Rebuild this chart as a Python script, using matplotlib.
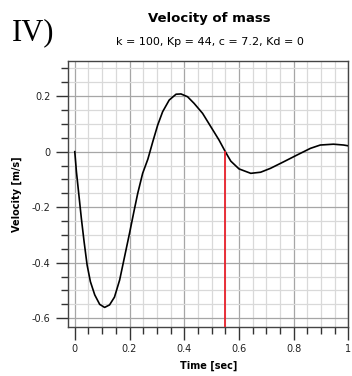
import matplotlib
matplotlib.use("Agg")
import matplotlib.pyplot as plt
from matplotlib.ticker import MultipleLocator

# curve
t = [0.0, 0.006, 0.015, 0.024, 0.034, 0.045, 0.057, 0.073, 0.091, 0.109,
     0.127, 0.145, 0.164, 0.182, 0.2, 0.216, 0.230, 0.248, 0.267, 0.285,
     0.303, 0.321, 0.345, 0.37, 0.388, 0.412, 0.436, 0.467, 0.497, 0.527,
     0.55, 0.57, 0.6, 0.643, 0.679, 0.715, 0.764, 0.812, 0.861, 0.897,
     0.945, 0.982, 1.0]
vel = [0.0, -0.072, -0.156, -0.240, -0.324, -0.408, -0.468, -0.516, -0.550,
       -0.561, -0.552, -0.524, -0.462, -0.378, -0.294, -0.216, -0.150, -0.078,
       -0.027, 0.036, 0.096, 0.144, 0.186, 0.207, 0.208, 0.198, 0.174, 0.138,
       0.090, 0.042, 0.0, -0.034, -0.062, -0.078, -0.074, -0.060, -0.036,
       -0.012, 0.012, 0.024, 0.027, 0.024, 0.021]
t_marker = 0.55

xticks = [0, 0.2, 0.4, 0.6, 0.8, 1]
xticklabels = ["0", "0.2", "0.4", "0.6", "0.8", "1"]
yticks = [-0.6, -0.4, -0.2, 0, 0.2]
yticklabels = ["-0.6", "-0.4", "-0.2", "0", "0.2"]

plt.rcParams["font.family"] = ["DejaVu Sans"]

fig = plt.figure(figsize=(3.52, 3.76), dpi=100)
ax = fig.add_axes([0.193, 0.130, 0.797, 0.708])

ax.plot(t, vel, color="black", lw=1.2, zorder=3, solid_joinstyle="round")
ax.plot([t_marker, t_marker], [-0.7, 0.0], color="#e8202a", lw=1.3, zorder=4)

ax.set_xlim(-0.025, 1.0)
ax.set_ylim(-0.632, 0.327)

ax.set_xticks(xticks)
ax.set_xticklabels(xticklabels)
ax.set_yticks(yticks)
ax.set_yticklabels(yticklabels)
ax.xaxis.set_minor_locator(MultipleLocator(0.05))
ax.yaxis.set_minor_locator(MultipleLocator(0.05))

ax.grid(which="minor", color="#d9d9d9", lw=0.9, zorder=0)
ax.grid(which="major", color="#a6a6a6", lw=0.9, zorder=1)
ax.set_axisbelow(True)

ax.tick_params(which="major", direction="out", length=9, width=1.0, color="#333333",
               labelsize=7, labelcolor="#222222", top=False, right=False)
ax.tick_params(which="minor", direction="out", length=5, width=1.0, color="#333333",
               top=False, right=False)
ax.tick_params(axis="x", which="both", pad=3)

for side in ["left", "bottom", "top", "right"]:
    ax.spines[side].set_color("#444444")
    ax.spines[side].set_linewidth(1.0)

ax.set_xlabel("Time [sec]", fontsize=7, fontweight="bold", labelpad=5)
ax.set_ylabel("Velocity [m/s]", fontsize=7, fontweight="bold", labelpad=7)

fig.text(0.595, 0.950, "Velocity of mass", ha="center", va="center",
         fontsize=9.5, fontweight="bold")
fig.text(0.595, 0.887, "k = 100, Kp = 44, c = 7.2, Kd = 0", ha="center",
         va="center", fontsize=8)
fig.text(0.035, 0.912, "IV)", ha="left", va="center", fontsize=22,
         family=["Liberation Serif", "DejaVu Serif"])

fig.savefig("out.png", dpi=100)
